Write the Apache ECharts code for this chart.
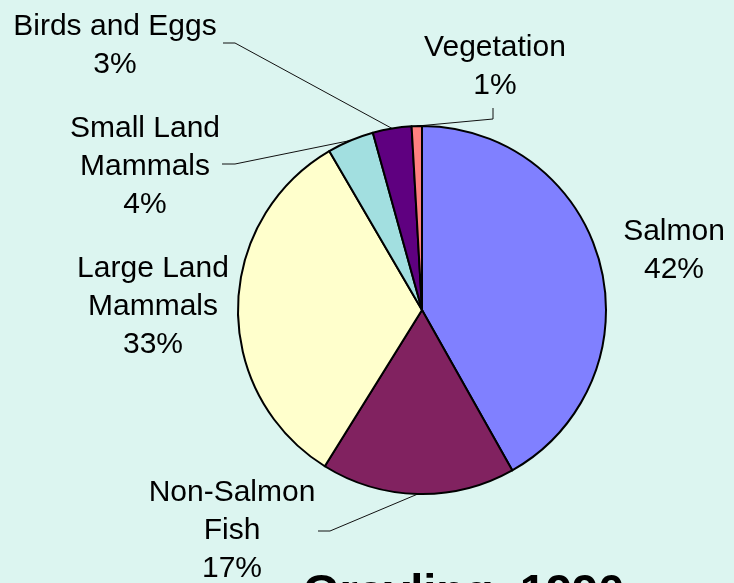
<!DOCTYPE html>
<html>
<head>
<meta charset="utf-8">
<script src="https://cdn.jsdelivr.net/npm/echarts@6/dist/echarts.min.js"></script>
<style>
  html, body { margin: 0; padding: 0; background: #dcf5f0; }
  #chart { width: 734px; height: 583px; }
</style>
</head>
<body>
<div id="chart"></div>
<script>
// diet shares (percent of total)
const categories = ['Salmon', 'Non-Salmon Fish', 'Large Land Mammals', 'Small Land Mammals', 'Birds and Eggs', 'Vegetation'];
const labelNames = ['Salmon', 'Non-Salmon\nFish', 'Large Land\nMammals', 'Small Land\nMammals', 'Birds and Eggs', 'Vegetation'];
const shares = [41.8, 17.0, 32.7, 4.1, 3.4, 0.9];
const titleText = 'Grayling, 1990';

const sliceColors = ['#8080ff', '#812260', '#ffffcc', '#a2dfe0', '#5f0080', '#ff8080'];

// where each label block sits, and the bend of its leader line (excel style)
const labelSpots = [
  { x: 674, y: 251 },
  { x: 232, y: 531, bend: [330, 531], end: [318, 531] },
  { x: 153, y: 307 },
  { x: 145, y: 167, bend: [235, 164], end: [222, 164] },
  { x: 115, y: 46,  bend: [235, 43],  end: [223, 43] },
  { x: 495, y: 67,  bend: [493, 119], end: [493, 108] }
];

let myChart = echarts.init(document.getElementById('chart'));

let pieData = categories.map((name, i) => ({
  name: name,
  value: shares[i],
  itemStyle: { color: sliceColors[i] },
  labelLine: { show: !!labelSpots[i].bend }
}));

let option = {
  backgroundColor: '#dcf5f0',
  animation: false,
  title: {
    text: titleText,
    left: 303,
    top: 571,
    padding: 0,
    textStyle: { fontFamily: 'Liberation Sans', fontSize: 47, fontWeight: 'bold', color: '#000' }
  },
  series: [{
    type: 'pie',
    center: [422, 310],
    radius: 184,
    startAngle: 90,
    clockwise: true,
    avoidLabelOverlap: false,
    itemStyle: { borderColor: '#000', borderWidth: 2 },
    emphasis: { disabled: true },
    label: {
      show: true,
      position: 'outside',
      fontFamily: 'Liberation Sans',
      fontSize: 30,
      lineHeight: 38,
      color: '#000',
      align: 'center',
      formatter: p => labelNames[p.dataIndex] + '\n' + Math.round(p.percent) + '%'
    },
    labelLine: {
      show: true,
      length: 10,
      length2: 10,
      lineStyle: { color: '#111', width: 1 }
    },
    labelLayout: function (params) {
      let spot = labelSpots[params.dataIndex];
      let res = { x: spot.x, y: spot.y, align: 'center', verticalAlign: 'middle' };
      if (spot.bend && params.labelLinePoints) {
        res.labelLinePoints = [params.labelLinePoints[0], spot.bend, spot.end];
      }
      return res;
    },
    data: pieData
  }]
};

myChart.setOption(option);
</script>
</body>
</html>
